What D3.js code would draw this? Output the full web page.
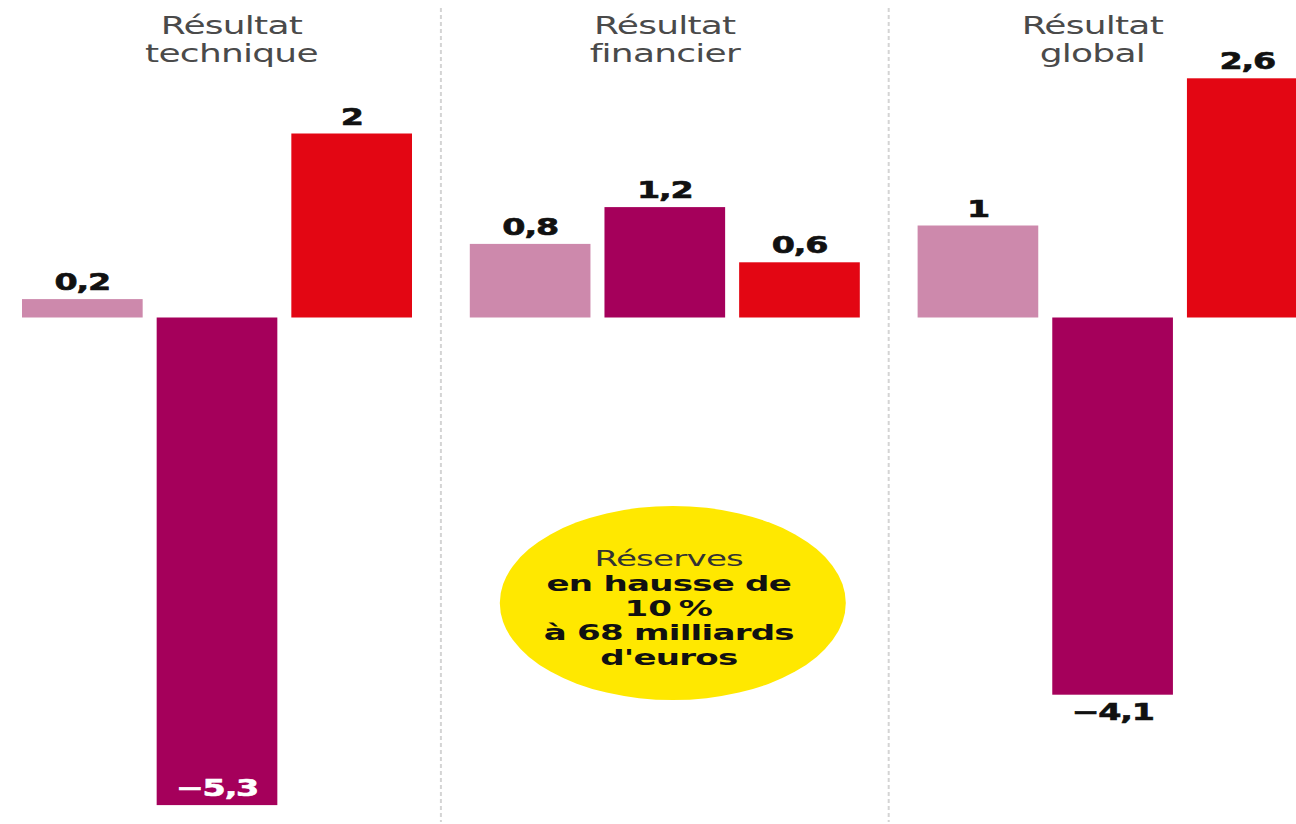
<!DOCTYPE html>
<html>
<head>
<meta charset="utf-8">
<script src="https://cdn.jsdelivr.net/npm/d3@7"></script>
<style>
  html, body { margin: 0; padding: 0; background: #ffffff; }
  svg { display: block; }
</style>
</head>
<body>
<svg id="chart" width="1296" height="824"></svg>
<script>
// ---- data ----
const panels = ["technique", "financier", "global"];
const panelTitles = [["Résultat", "technique"], ["Résultat", "financier"], ["Résultat", "global"]];
const seriesKeys = ["a", "b", "c"];
const valuesTechnique = [0.2, -5.3, 2];
const valuesFinancier = [0.8, 1.2, 0.6];
const valuesGlobal = [1, -4.1, 2.6];
const valueLabelsTechnique = ["0,2", "\u22125,3", "2"];
const valueLabelsFinancier = ["0,8", "1,2", "0,6"];
const valueLabelsGlobal = ["1", "\u22124,1", "2,6"];
const bubbleLines = ["Réserves", "en hausse de", "10\u202f%", "à 68 milliards", "d'euros"];
const bubbleBold = [false, true, true, true, true];

const allValues = [valuesTechnique, valuesFinancier, valuesGlobal];
const allLabels = [valueLabelsTechnique, valueLabelsFinancier, valueLabelsGlobal];

// ---- styles ----
const colors = { a: "#cd89ac", b: "#a5005b", c: "#e30613" };
const W = 1296, H = 824;
const svg = d3.select("#chart");

// scales
const zeroY = 317.5, unit = 92;
const y = d3.scaleLinear().domain([-6, 3]).range([zeroY + 6 * unit, zeroY - 3 * unit]);
const panelStep = 447.8;
const x0 = d3.scaleBand().domain(panels).range([22, 22 + 3 * panelStep]).padding(0);
const groupWidth = 390;
const x1 = d3.scaleBand().domain(seriesKeys).range([0, groupWidth]).paddingInner(0.104).paddingOuter(0);

const SX = 1.45; // horizontal stretch of the lettering

function stretchedText(g, x, yy, txt, opts) {
  return g.append("text")
    .attr("transform", `translate(${x},${yy}) scale(${opts.sx || SX},1)`)
    .attr("text-anchor", "middle")
    .attr("font-family", opts.family || "DejaVu Sans")
    .attr("font-weight", opts.weight || "bold")
    .attr("font-size", opts.size)
    .attr("letter-spacing", opts.ls || 0)
    .attr("fill", opts.fill || "#111")
    .attr("stroke", opts.stroke || "none")
    .attr("stroke-width", opts.sw || 0)
    .text(txt);
}

// dividers (midway between panels)
const dividerXs = [];
for (let i = 0; i < panels.length - 1; i++) {
  const endPrev = x0(panels[i]) + groupWidth;
  const startNext = x0(panels[i + 1]);
  dividerXs.push((endPrev + startNext) / 2);
}
svg.selectAll("line.divider").data(dividerXs).enter().append("line")
  .attr("class", "divider")
  .attr("x1", d => d).attr("x2", d => d)
  .attr("y1", 8).attr("y2", 822)
  .attr("stroke", "#d4d4d4").attr("stroke-width", 2)
  .attr("stroke-dasharray", "4,3");

// titles centered between column edges
const colEdges = [22, ...dividerXs, W];
panels.forEach((p, i) => {
  const cx = (colEdges[i] + colEdges[i + 1]) / 2;
  panelTitles[i].forEach((line, j) => {
    stretchedText(svg, cx, 34 + j * 28, line, { size: 24, weight: "normal", fill: "#4a4a4a", sx: 1.5, ls: -0.5 });
  });
});

// bars
panels.forEach((p, i) => {
  const g = svg.append("g").attr("transform", `translate(${x0(p)},0)`);
  const data = seriesKeys.map((k, j) => ({ key: k, value: allValues[i][j], label: allLabels[i][j] }));
  g.selectAll("rect").data(data).enter().append("rect")
    .attr("x", d => x1(d.key))
    .attr("width", x1.bandwidth())
    .attr("y", d => y(Math.max(0, d.value)))
    .attr("height", d => Math.abs(y(d.value) - y(0)))
    .attr("fill", d => colors[d.key]);

  data.forEach(d => {
    const cx = x1(d.key) + x1.bandwidth() / 2;
    if (d.value >= 0) {
      stretchedText(g, cx, y(d.value) - 9, d.label, { size: 23, ls: -0.8, stroke: "#111", sw: 0.6 });
    } else if (Math.abs(d.value) > 5) {
      // label inside the bar bottom, in white
      stretchedText(g, cx, y(d.value) - 9, d.label, { size: 23, fill: "#ffffff", ls: -0.8, stroke: "#fff", sw: 0.6 });
    } else {
      stretchedText(g, cx, y(d.value) + 25, d.label, { size: 23, ls: -0.8, stroke: "#111", sw: 0.6 });
    }
  });
});

// yellow bubble in the middle panel
const midCx = x0(panels[1]) + groupWidth / 2 + 8;
const bubbleCy = 603;
svg.append("ellipse")
  .attr("cx", midCx).attr("cy", bubbleCy)
  .attr("rx", 173).attr("ry", 97)
  .attr("fill", "#ffe800");
bubbleLines.forEach((line, i) => {
  stretchedText(svg, midCx - 4, 566 + i * 24.8, line, {
    size: 22,
    weight: bubbleBold[i] ? "bold" : "normal",
    fill: bubbleBold[i] ? "#111" : "#333",
    sx: 1.55,
    ls: -0.5
  });
});
</script>
</body>
</html>
